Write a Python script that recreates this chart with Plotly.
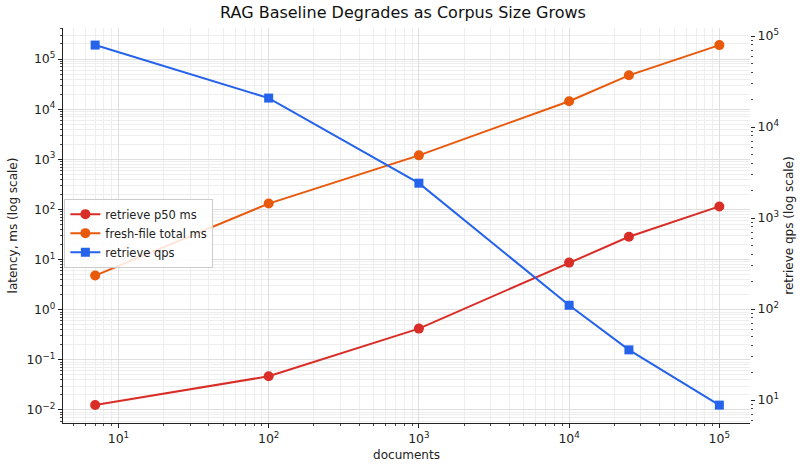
import plotly.graph_objects as go

documents = [7, 100, 1000, 10000, 25000, 100000]
retrieve_p50_ms = [0.0126, 0.047, 0.42, 8.7, 28.5, 115]
fresh_file_total_ms = [4.8, 131, 1200, 14400, 47400, 190000]
retrieve_qps = [79500, 20800, 2415, 110, 35.6, 8.8]

left_tickvals = [1e-2, 1e-1, 1, 10, 1e2, 1e3, 1e4, 1e5]
left_ticktext = ["10<sup>−2</sup>", "10<sup>−1</sup>", "10<sup>0</sup>", "10<sup>1</sup>",
                 "10<sup>2</sup>", "10<sup>3</sup>", "10<sup>4</sup>", "10<sup>5</sup>"]
right_tickvals = [10, 1e2, 1e3, 1e4, 1e5]
right_ticktext = ["10<sup>1</sup>", "10<sup>2</sup>", "10<sup>3</sup>", "10<sup>4</sup>", "10<sup>5</sup>"]
x_tickvals = [10, 1e2, 1e3, 1e4, 1e5]
x_ticktext = ["10<sup>1</sup>", "10<sup>2</sup>", "10<sup>3</sup>", "10<sup>4</sup>", "10<sup>5</sup>"]

RED = "#d92d27"
ORANGE = "#e8590c"
BLUE = "#2563eb"
FONT = "DejaVu Sans"

fig = go.Figure()
fig.add_trace(go.Scatter(x=documents, y=retrieve_p50_ms, name="retrieve p50 ms",
                         mode="lines+markers", line=dict(color=RED, width=2),
                         marker=dict(symbol="circle", size=10, color=RED)))
fig.add_trace(go.Scatter(x=documents, y=fresh_file_total_ms, name="fresh-file total ms",
                         mode="lines+markers", line=dict(color=ORANGE, width=2),
                         marker=dict(symbol="circle", size=10, color=ORANGE)))
fig.add_trace(go.Scatter(x=documents, y=retrieve_qps, name="retrieve qps",
                         mode="lines+markers", line=dict(color=BLUE, width=2),
                         marker=dict(symbol="square", size=9, color=BLUE), yaxis="y2"))

fig.update_layout(
    width=806, height=471,
    margin=dict(l=59, r=53, t=28, b=47),
    paper_bgcolor="white", plot_bgcolor="white",
    font=dict(family=FONT, size=12, color="#222"),
    title=dict(text="RAG Baseline Degrades as Corpus Size Grows", x=0.5, xanchor="center",
               y=0.985, yanchor="top", font=dict(size=16, color="#111")),
    showlegend=True,
    legend=dict(x=0.002, y=0.568, xanchor="left", yanchor="top",
                bgcolor="rgba(255,255,255,0.85)", bordercolor="#cccccc", borderwidth=1,
                font=dict(size=11.5), tracegroupgap=0, itemwidth=30),
    xaxis=dict(type="log", range=[0.631, 5.204], tickvals=x_tickvals, ticktext=x_ticktext,
               title=dict(text="documents", standoff=5, font=dict(size=12)),
               showline=True, linecolor="#222", linewidth=1.2, ticks="outside", ticklen=4,
               tickcolor="#222", showgrid=True, gridcolor="#dedede", gridwidth=0.8,
               tickfont=dict(size=12.5),
               minor=dict(dtick="D1", showgrid=True, gridcolor="#eeeeee", gridwidth=0.6,
                          ticks="outside", ticklen=2, tickcolor="#444"),
               zeroline=False, mirror=False),
    yaxis=dict(type="log", range=[-2.26, 5.62], tickvals=left_tickvals, ticktext=left_ticktext,
               title=dict(text="latency, ms (log scale)", standoff=6, font=dict(size=12)),
               showline=True, linecolor="#222", linewidth=1.2, ticks="outside", ticklen=4,
               tickcolor="#222", showgrid=True, gridcolor="#dedede", gridwidth=0.8,
               tickfont=dict(size=12.5),
               minor=dict(dtick="D1", showgrid=True, gridcolor="#eeeeee", gridwidth=0.6,
                          ticks="outside", ticklen=2, tickcolor="#444"),
               zeroline=False),
    yaxis2=dict(type="log", range=[0.748, 5.088], overlaying="y", side="right",
                tickvals=right_tickvals, ticktext=right_ticktext,
                title=dict(text="retrieve qps (log scale)", standoff=6, font=dict(size=12)),
                showline=False, ticks="outside", ticklen=4, tickcolor="#222",
                showgrid=False, tickfont=dict(size=12.5),
                minor=dict(dtick="D1", showgrid=False, ticks="outside", ticklen=2, tickcolor="#444"),
                zeroline=False),
)

fig.write_html("out.html")
